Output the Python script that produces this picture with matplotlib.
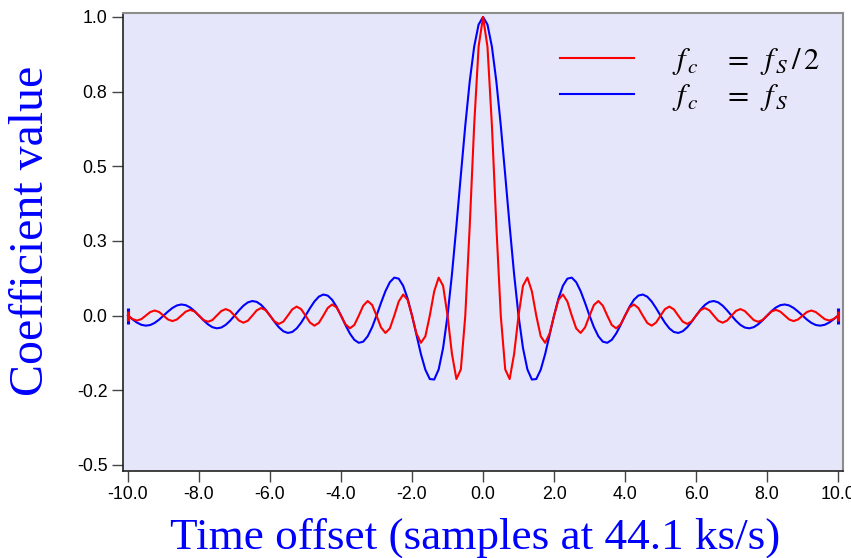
import numpy as np
import matplotlib
matplotlib.use("Agg")
import matplotlib.pyplot as plt

# ---------- data (1/8 sample steps from -10 to 10) ----------
coef_half_fs = [
    0.0, -0.0114, -0.0163, -0.0117, 0.0, 0.0120, 0.0172, 0.0123,
    0.0, -0.0127, -0.0182, -0.0130, 0.0, 0.0134, 0.0193, 0.0139,
    0.0, -0.0143, -0.0205, -0.0148, 0.0, 0.0153, 0.0220, 0.0158,
    0.0, -0.0164, -0.0236, -0.0170, 0.0, 0.0177, 0.0255, 0.0184,
    0.0, -0.0192, -0.0277, -0.0200, 0.0, 0.0209, 0.0303, 0.0220,
    0.0, -0.0231, -0.0335, -0.0243, 0.0, 0.0257, 0.0374, 0.0273,
    0.0, -0.0290, -0.0424, -0.0310, 0.0, 0.0333, 0.0490, 0.0360,
    0.0, -0.0391, -0.0579, -0.0429, 0.0, 0.0474, 0.0707, 0.0530,
    0.0, -0.0600, -0.0909, -0.0693, 0.0, 0.0818, 0.1273, 0.1000,
    0.0, -0.1286, -0.2122, -0.1801, 0.0, 0.3001, 0.6366, 0.9003,
    1.0,
    0.9003, 0.6366, 0.3001, 0.0, -0.1801, -0.2122, -0.1286, 0.0,
    0.1000, 0.1273, 0.0818, 0.0, -0.0693, -0.0909, -0.0600, 0.0,
    0.0530, 0.0707, 0.0474, 0.0, -0.0429, -0.0579, -0.0391, 0.0,
    0.0360, 0.0490, 0.0333, 0.0, -0.0310, -0.0424, -0.0290, 0.0,
    0.0273, 0.0374, 0.0257, 0.0, -0.0243, -0.0335, -0.0231, 0.0,
    0.0220, 0.0303, 0.0209, 0.0, -0.0200, -0.0277, -0.0192, 0.0,
    0.0184, 0.0255, 0.0177, 0.0, -0.0170, -0.0236, -0.0164, 0.0,
    0.0158, 0.0220, 0.0153, 0.0, -0.0148, -0.0205, -0.0143, 0.0,
    0.0139, 0.0193, 0.0134, 0.0, -0.0130, -0.0182, -0.0127, 0.0,
    0.0123, 0.0172, 0.0120, 0.0, -0.0117, -0.0163, -0.0114, 0.0,
]

coef_fs = [
    0.0, -0.0123, -0.0231, -0.0306, -0.0335, -0.0314, -0.0243, -0.0133,
    0.0, 0.0137, 0.0257, 0.0341, 0.0374, 0.0351, 0.0273, 0.0150,
    0.0, -0.0155, -0.0290, -0.0386, -0.0424, -0.0399, -0.0310, -0.0171,
    0.0, 0.0177, 0.0333, 0.0444, 0.0490, 0.0461, 0.0360, 0.0199,
    0.0, -0.0207, -0.0391, -0.0523, -0.0579, -0.0547, -0.0429, -0.0238,
    0.0, 0.0250, 0.0474, 0.0636, 0.0707, 0.0672, 0.0530, 0.0295,
    0.0, -0.0314, -0.0600, -0.0811, -0.0909, -0.0871, -0.0693, -0.0390,
    0.0, 0.0424, 0.0818, 0.1120, 0.1273, 0.1238, 0.1000, 0.0573,
    0.0, -0.0650, -0.1286, -0.1810, -0.2122, -0.2139, -0.1801, -0.1083,
    0.0, 0.1392, 0.3001, 0.4705, 0.6366, 0.7842, 0.9003, 0.9745,
    1.0,
    0.9745, 0.9003, 0.7842, 0.6366, 0.4705, 0.3001, 0.1392, 0.0,
    -0.1083, -0.1801, -0.2139, -0.2122, -0.1810, -0.1286, -0.0650, 0.0,
    0.0573, 0.1000, 0.1238, 0.1273, 0.1120, 0.0818, 0.0424, 0.0,
    -0.0390, -0.0693, -0.0871, -0.0909, -0.0811, -0.0600, -0.0314, 0.0,
    0.0295, 0.0530, 0.0672, 0.0707, 0.0636, 0.0474, 0.0250, 0.0,
    -0.0238, -0.0429, -0.0547, -0.0579, -0.0523, -0.0391, -0.0207, 0.0,
    0.0199, 0.0360, 0.0461, 0.0490, 0.0444, 0.0333, 0.0177, 0.0,
    -0.0171, -0.0310, -0.0399, -0.0424, -0.0386, -0.0290, -0.0155, 0.0,
    0.0150, 0.0273, 0.0351, 0.0374, 0.0341, 0.0257, 0.0137, 0.0,
    -0.0133, -0.0243, -0.0314, -0.0335, -0.0306, -0.0231, -0.0123, 0.0,
]

offset = np.linspace(-10.0, 10.0, len(coef_fs))

x_ticks = [-10, -8, -6, -4, -2, 0, 2, 4, 6, 8, 10]
x_tick_labels = ["-10.0", "-8.0", "-6.0", "-4.0", "-2.0", "0.0",
                 "2.0", "4.0", "6.0", "8.0", "10.0"]
y_ticks = [-0.5, -0.25, 0.0, 0.25, 0.5, 0.75, 1.0]
y_tick_labels = ["-0.5", "-0.2", "0.0", "0.3", "0.5", "0.8", "1.0"]

label_half = r"$f_{\,c}\;\;\;\;=\;\;f_{\,S}\,/\,2$"
label_full = r"$f_{\,c}\;\;\;\;=\;\;f_{\,S}$"

RED = "#FF0000"
BLUE = "#0000FF"

plt.rcParams["mathtext.fontset"] = "stix"
plt.rcParams["font.family"] = ["Liberation Sans", "DejaVu Sans"]

# ---------- plot ----------
fig = plt.figure(figsize=(8.51, 5.58), dpi=100)
ax = fig.add_axes([0.1442, 0.1565, 0.8464, 0.8203])
ax.set_facecolor("#E6E6FA")

fs_arr = np.asarray(coef_fs)
half_arr = np.asarray(coef_half_fs)
ends = [0, -1]

blue_line, = ax.plot(offset, fs_arr, color=BLUE, lw=1.5)
ax.plot(offset[ends], fs_arr[ends], ls="none", marker="|", ms=12, mew=2.2, color=BLUE)
red_line, = ax.plot(offset, half_arr, color=RED, lw=1.5)
ax.plot(offset[ends], half_arr[ends], ls="none", marker="|", ms=7, mew=2.2, color=RED)

ax.set_xlim(-10.15, 10.14)
ax.set_ylim(-0.519, 1.0134)
ax.set_xticks(x_ticks)
ax.set_xticklabels(x_tick_labels)
ax.set_yticks(y_ticks)
ax.set_yticklabels(y_tick_labels)
ax.tick_params(direction="out", length=8, width=1, color="#444444",
               labelsize=12.8, pad=3)

for side in ("left", "bottom"):
    ax.spines[side].set_color("#222222")
    ax.spines[side].set_linewidth(1.2)
for side in ("top", "right"):
    ax.spines[side].set_color("#8c8c8c")
    ax.spines[side].set_linewidth(1.5)

fig.text(475 / 851, 9 / 558, "Time offset (samples at 44.1 ks/s)",
         ha="center", va="baseline", fontsize=32.5, color=BLUE,
         family="Liberation Serif")
fig.text(43 / 851, 1 - 231 / 558, "Coefficient value", rotation=90,
         rotation_mode="anchor", ha="center", va="baseline", fontsize=34.5,
         color=BLUE, family="Liberation Serif")

ax.legend([red_line, blue_line], [label_half, label_full],
          loc="upper left", bbox_to_anchor=(560 / 851, 1 - 46 / 558),
          bbox_transform=fig.transFigure, frameon=False, fontsize=22,
          borderpad=0, borderaxespad=0, handlelength=2.43,
          handletextpad=1.25, labelspacing=0.15)

fig.savefig("out.png", dpi=100)
